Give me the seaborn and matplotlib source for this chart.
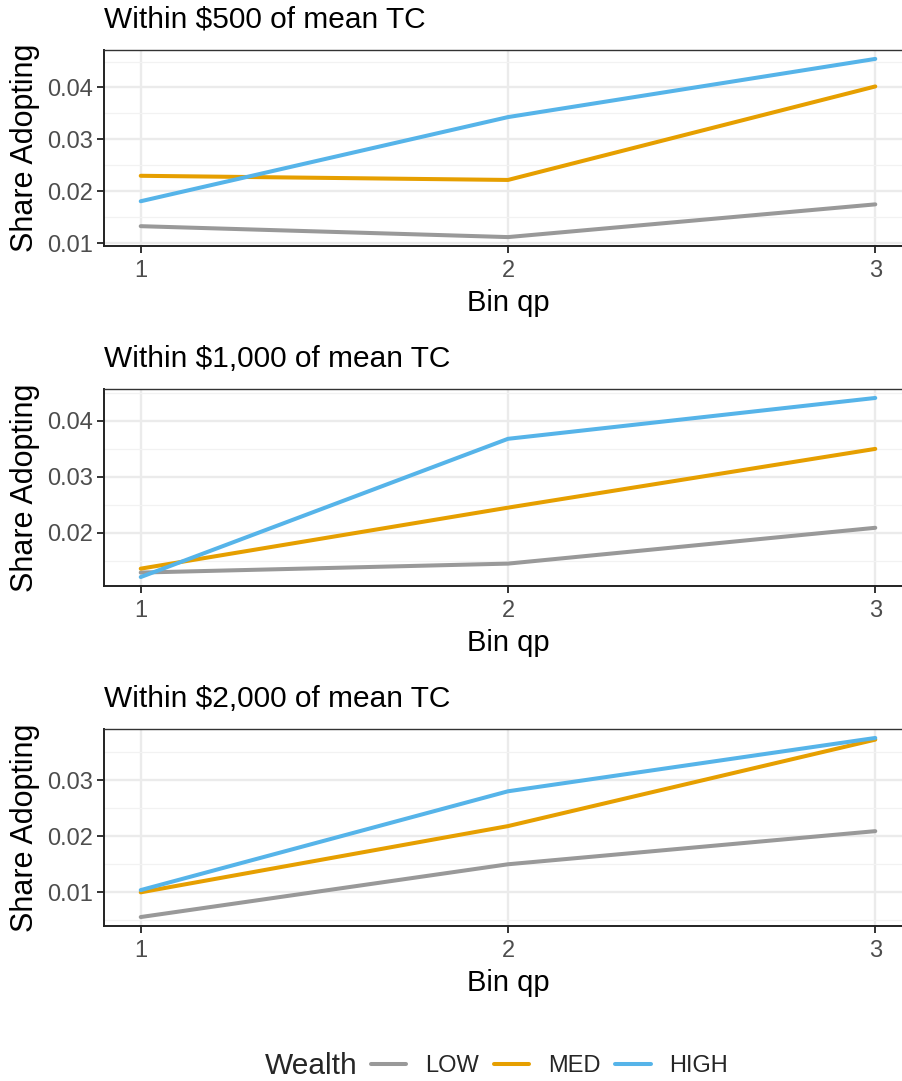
import pandas as pd
import matplotlib
matplotlib.use("Agg")
import matplotlib.pyplot as plt
import seaborn as sns
from matplotlib.ticker import MultipleLocator, FormatStrFormatter
from matplotlib.lines import Line2D

# values
bins = [1, 2, 3]
wealth_levels = ["LOW", "MED", "HIGH"]
panel_titles = ["Within $500 of mean TC", "Within $1,000 of mean TC", "Within $2,000 of mean TC"]

low_500 = [0.0133, 0.0112, 0.0175]
med_500 = [0.0230, 0.0222, 0.0402]
high_500 = [0.0181, 0.0343, 0.0455]

low_1000 = [0.0129, 0.0145, 0.0209]
med_1000 = [0.0136, 0.0245, 0.0350]
high_1000 = [0.0121, 0.0368, 0.0441]

low_2000 = [0.0056, 0.0150, 0.0209]
med_2000 = [0.0100, 0.0218, 0.0372]
high_2000 = [0.0104, 0.0280, 0.0375]

colors = {"LOW": "#999999", "MED": "#E69F00", "HIGH": "#56B4E9"}


def make_df(low, med, high):
    rows = []
    for lvl, vals in zip(wealth_levels, [low, med, high]):
        for b, v in zip(bins, vals):
            rows.append({"bin_qp": b, "share": v, "Wealth": lvl})
    return pd.DataFrame(rows)


panels = [make_df(low_500, med_500, high_500),
          make_df(low_1000, med_1000, high_1000),
          make_df(low_2000, med_2000, high_2000)]

sns.set_theme(style="white")
plt.rcParams["font.family"] = ["Liberation Sans", "DejaVu Sans"]

W, H = 902, 1081
fig = plt.figure(figsize=(W / 100, H / 100), dpi=100)

# axes boxes in pixels: (left, top, right, bottom)
boxes = [(104, 50, 912, 246), (104, 389, 912, 586), (104, 729, 912, 926)]

for df, title, (l, t, r, b) in zip(panels, panel_titles, boxes):
    ax = fig.add_axes([l / W, 1 - b / H, (r - l) / W, (b - t) / H])
    sns.lineplot(data=df, x="bin_qp", y="share", hue="Wealth", hue_order=wealth_levels,
                 palette=colors, linewidth=2.9, ax=ax, legend=False)
    ax.margins(x=0.05, y=0.05)
    ax.xaxis.set_major_locator(MultipleLocator(1))
    ax.yaxis.set_major_locator(MultipleLocator(0.01))
    ax.yaxis.set_minor_locator(MultipleLocator(0.005))
    ax.yaxis.set_major_formatter(FormatStrFormatter("%.2f"))
    ax.grid(which="major", color="#EBEBEB", linewidth=1.7)
    ax.grid(which="minor", axis="y", color="#F2F2F2", linewidth=0.9)
    ax.set_axisbelow(True)
    for side in ["top", "right"]:
        ax.spines[side].set_color("#333333")
        ax.spines[side].set_linewidth(1.0)
    for side in ["left", "bottom"]:
        ax.spines[side].set_color("#222222")
        ax.spines[side].set_linewidth(1.4)
    ax.tick_params(which="major", direction="out", length=5, width=1.4, color="#333333",
                   labelsize=17, labelcolor="#4D4D4D", left=True, bottom=True, pad=3)
    ax.tick_params(axis="x", pad=5)
    ax.tick_params(which="minor", length=0)
    ax.set_xlabel("Bin qp", fontsize=21, color="black", labelpad=5)
    ax.set_ylabel("Share Adopting", fontsize=22, color="black", labelpad=5)
    ax.set_title(title, fontsize=21.5, loc="left", color="black", pad=16)

# legend along the bottom
handles = [Line2D([], [], color=colors[w], linewidth=2.9) for w in wealth_levels]
fig.text(265 / W, 1 - 1066 / H, "Wealth", fontsize=21.5, va="center", ha="left")
fig.legend(handles, wealth_levels, loc="center left", bbox_to_anchor=(371 / W, 1 - 1066 / H),
           ncol=3, frameon=False, fontsize=17, handlelength=1.5, handletextpad=0.8,
           columnspacing=0.62, borderpad=0, borderaxespad=0)

fig.savefig("out.png", dpi=100)
